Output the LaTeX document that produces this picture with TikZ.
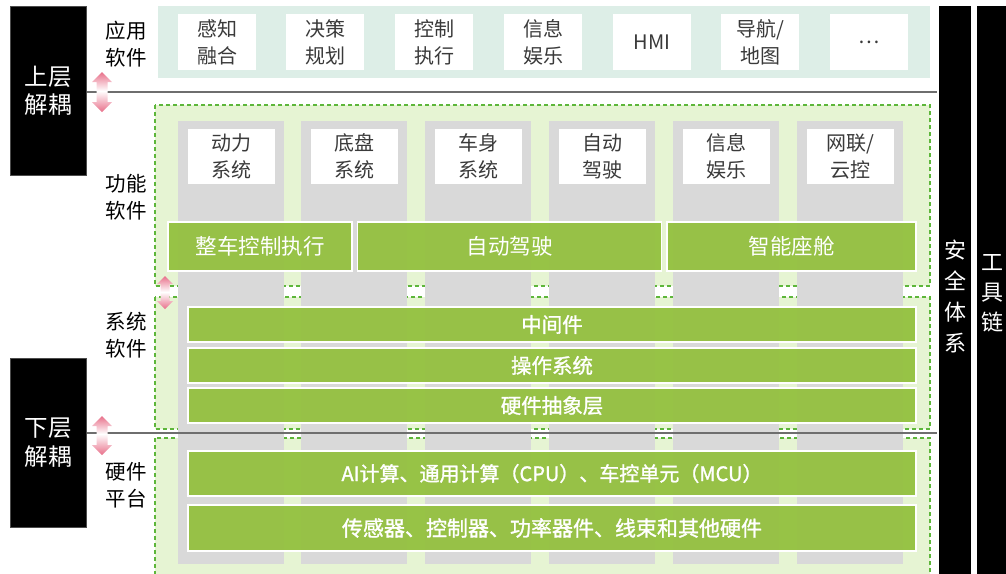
\documentclass[tikz,border=0pt]{standalone}
\usepackage{fontspec}
\setmainfont{Noto Sans CJK SC}
\newfontfamily\medfont{Noto Sans CJK SC}[FakeBold=1.3]
\definecolor{tealbg}{HTML}{DDEEE7}
\definecolor{lgreen}{HTML}{E6F4D3}
\definecolor{dgreen}{HTML}{5DB63A}
\definecolor{bgreen}{HTML}{92C03C}
\definecolor{colgray}{HTML}{D9D9D9}
\definecolor{linegray}{HTML}{6E6E6E}
\definecolor{pinkc}{HTML}{E8708A}
\definecolor{txt}{HTML}{3A3A3A}
\begin{document}
\begin{tikzpicture}[x=1pt,y=-1pt,
  lbl/.style={font=\fontsize{20.5}{27}\selectfont, align=center, text=black, inner sep=0pt},
  wbox/.style={fill=white, draw=none, inner sep=0pt, align=center, text=txt,
    font=\fontsize{20}{27}\selectfont},
  blkbox/.style={fill=black, draw=black!70, line width=0.6pt, inner sep=0pt, align=center, text=white},
  gbar/.style={fill=bgreen, fill opacity=0.93, text opacity=1, draw=white, line width=1.5pt,
    inner sep=0pt, text=white, align=center},
  region/.style={fill=lgreen, draw=dgreen, line width=1.3pt, dash pattern=on 4pt off 3pt},
  sepline/.style={draw=linegray, line width=2pt},
]
\useasboundingbox (0,0) rectangle (1006,573);
\clip (0,0) rectangle (1006,573);

% application layer
\fill[tealbg] (158,6) rectangle (930,78);
\foreach \cx/\t [count=\i] in {217/{感知\\融合},325/{决策\\规划},434/{控制\\执行},543/{信息\\娱乐},652/{HMI},760/{导航/\\地图},869/{…}}{
  \node[wbox, minimum width=78pt, minimum height=56pt] (app\i) at (\cx,42) {\t};
}

% regions
\path[region] (155,105) rectangle (930,286);
\path[region] (155,297) rectangle (930,429);
\path[region] (155,438) rectangle (930,590);

% gray columns
\foreach \lx/\t [count=\i] in {178/{动力\\系统},301/{底盘\\系统},425/{车身\\系统},549/{自动\\驾驶},673/{信息\\娱乐},797/{网联/\\云控}}{
  \fill[colgray] (\lx,121) rectangle (\lx+106,564);
  \node[wbox, minimum width=87pt, minimum height=55pt] (fn\i) at (\lx+53.5,156.5) {\t};
}

% functional bars
\node[gbar, minimum width=184pt, minimum height=49pt, font=\fontsize{21.5}{24}\selectfont] (veh) at (260,246.5) {整车控制执行};
\node[gbar, minimum width=304pt, minimum height=49pt, font=\fontsize{21.5}{24}\selectfont] (ad) at (509.5,246.5) {自动驾驶};
\node[gbar, minimum width=249pt, minimum height=49pt, font=\fontsize{21.5}{24}\selectfont] (cab) at (791.5,246.5) {智能座舱};

% system bars
\node[gbar, minimum width=728pt, minimum height=35pt, font=\medfont\fontsize{20.5}{22}\selectfont] (mid) at (552,324.5) {中间件};
\node[gbar, minimum width=728pt, minimum height=35pt, font=\medfont\fontsize{20.5}{22}\selectfont] (os) at (552,365.5) {操作系统};
\node[gbar, minimum width=728pt, minimum height=35pt, font=\medfont\fontsize{20.5}{22}\selectfont] (hal) at (552,405.5) {硬件抽象层};

% hardware bars
\node[gbar, minimum width=728pt, minimum height=45pt, font=\medfont\fontsize{20}{22}\selectfont] (comp) at (552,473.5) {AI计算、通用计算（CPU）、车控单元（MCU）};
\node[gbar, minimum width=728pt, minimum height=46pt, font=\medfont\fontsize{21}{22}\selectfont] (sens) at (552,528) {传感器、控制器、功率器件、线束和其他硬件};

% separator lines
\draw[sepline] (86,91.5) -- (937,91.5);
\draw[sepline] (86,433) -- (937,433);

% left black boxes
\node[blkbox, minimum width=76pt, minimum height=169pt, font=\fontsize{23.5}{28}\selectfont] (up) at (48,90.5) {上层\\解耦};
\node[blkbox, minimum width=76pt, minimum height=169pt, font=\fontsize{23.5}{29}\selectfont] (down) at (48,442.5) {下层\\解耦};

% right black bars
\node[blkbox, minimum width=32pt, minimum height=580pt, font=\fontsize{22}{31}\selectfont, draw=none] (safe) at (955,296) {安\\全\\体\\系};
\node[blkbox, minimum width=32pt, minimum height=580pt, draw=none, anchor=north west] (tool) at (977,6) {};
\node[text=white, font=\fontsize{22}{30}\selectfont, align=center, inner sep=0pt] (toolt) at (992,293) {工\\具\\链};

% layer labels
\node[lbl] (l1) at (126,44) {应用\\软件};
\node[lbl] (l2) at (126,197) {功能\\软件};
\node[lbl] (l3) at (126,335) {系统\\软件};
\node[lbl] (l4) at (126,485) {硬件\\平台};

% pink double arrows
\foreach \x/\a/\m/\b [count=\i] in {102/72/91/112, 102/416/434/455, 165/276/292/309}{
  \pgfmathsetmacro{\hw}{\i==3 ? 8 : 10}
  \pgfmathsetmacro{\sw}{\i==3 ? 4.5 : 5.5}
  \pgfmathsetmacro{\hh}{\i==3 ? 8 : 10}
  \shade[top color=pinkc, bottom color=white]
    (\x,\a) -- (\x+\hw,\a+\hh) -- (\x+\sw,\a+\hh) -- (\x+\sw,\m) -- (\x-\sw,\m) -- (\x-\sw,\a+\hh) -- (\x-\hw,\a+\hh) -- cycle;
  \shade[top color=white, bottom color=pinkc]
    (\x,\b) -- (\x+\hw,\b-\hh) -- (\x+\sw,\b-\hh) -- (\x+\sw,\m) -- (\x-\sw,\m) -- (\x-\sw,\b-\hh) -- (\x-\hw,\b-\hh) -- cycle;
}
\end{tikzpicture}
\end{document}
